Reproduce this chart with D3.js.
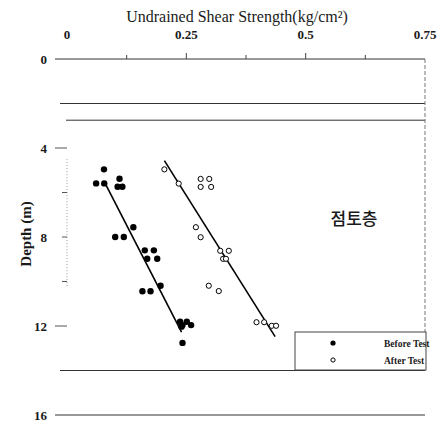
<!DOCTYPE html>
<html><head><meta charset="utf-8">
<script src="https://cdn.jsdelivr.net/npm/d3@7"></script>
<style>body{margin:0;background:#fff}svg{display:block}.serif{font-family:"Liberation Serif","DejaVu Serif",serif}</style>
</head><body><svg id="c" width="441" height="425"></svg>
<script>
const xTicks = [0, 0.25, 0.5, 0.75];
const xMinorTicks = [0.125, 0.25, 0.375, 0.5, 0.625];
const yTicks = [0, 4, 8, 12, 16];
const yMinorTicks = [4, 6, 8, 10, 12];
const layerDepths = [0, 2, 2.75, 14, 16];
const beforeStrength = [0.0775,0.061,0.078,0.110,0.106,0.116,0.139,0.101,0.119,0.163,0.182,0.168,0.189,0.196,0.158,0.175,0.237,0.242,0.251,0.260,0.240,0.242];
const beforeDepth    = [4.96,5.59,5.59,5.38,5.74,5.74,7.56,8.0,8.0,8.60,8.60,8.98,8.98,10.19,10.44,10.44,11.81,11.96,11.81,11.96,12.03,12.76];
const afterStrength = [0.204,0.234,0.280,0.298,0.280,0.302,0.270,0.280,0.321,0.339,0.327,0.333,0.297,0.318,0.397,0.413,0.429,0.438];
const afterDepth    = [4.96,5.60,5.39,5.39,5.75,5.75,7.56,8.01,8.62,8.62,8.98,8.98,10.19,10.43,11.83,11.83,11.99,11.99];
const beforeFitStrength = [0.081, 0.240];
const beforeFitDepth = [5.63, 12.28];
const afterFitStrength = [0.204, 0.436];
const afterFitDepth = [4.57, 12.48];
const legendLabels = ["Before Test", "After Test"];
const soilLabel = "점토층";
const xTitle = "Undrained Shear Strength(kg/cm²)";
const yTitle = "Depth (m)";

const svg = d3.select("#c");
const x = d3.scaleLinear().domain([0, 0.75]).range([67, 425]);
const y = d3.scaleLinear().domain([0, 16]).range([59, 415]);
const ink = "#1a1a1a";

// layer boundary lines
const lineStarts = {0: 55, 2: 60, 2.75: 66, 14: 60, 16: 55};
svg.selectAll("line.layer").data(layerDepths).enter().append("line")
  .attr("x1", d => lineStarts[d]).attr("x2", x(0.75))
  .attr("y1", d => y(d)).attr("y2", d => y(d))
  .attr("stroke", "#333").attr("stroke-width", 1);

// right border (dashed)
svg.append("line").attr("x1", x(0.75)).attr("x2", x(0.75)).attr("y1", y(0)).attr("y2", y(14))
  .attr("stroke", "#777").attr("stroke-width", 1).attr("stroke-dasharray", "4,2");

// left dotted axis
svg.append("line").attr("x1", x(0)).attr("x2", x(0)).attr("y1", y(4.5)).attr("y2", y(10.3))
  .attr("stroke", "#999").attr("stroke-width", 1).attr("stroke-dasharray", "1,2");

// top ticks
svg.selectAll("line.xt").data(xMinorTicks).enter().append("line")
  .attr("x1", d => x(d)).attr("x2", d => x(d))
  .attr("y1", y(0)).attr("y2", d => y(0) - (d === 0.25 || d === 0.5 ? 6 : 4))
  .attr("stroke", "#444");

// left ticks
svg.selectAll("line.yt").data(yMinorTicks).enter().append("line")
  .attr("x1", d => (d % 4 === 0 && d !== 8) ? 55 : 62).attr("x2", x(0))
  .attr("y1", d => y(d)).attr("y2", d => y(d))
  .attr("stroke", "#555");

// x tick labels
svg.selectAll("text.xl").data(xTicks).enter().append("text").attr("class", "serif")
  .attr("x", d => x(d)).attr("y", 39).attr("text-anchor", "middle")
  .attr("font-weight", "bold").attr("font-size", 13).attr("fill", ink)
  .text(d => d === 0 ? "0" : String(d));

// y tick labels
svg.selectAll("text.yl").data(yTicks).enter().append("text").attr("class", "serif")
  .attr("x", 47).attr("y", d => y(d) + 4.5).attr("text-anchor", "end")
  .attr("font-weight", "bold").attr("font-size", 13).attr("fill", ink)
  .text(d => d);

// titles
svg.append("text").attr("class", "serif").attr("x", 237).attr("y", 22).attr("text-anchor", "middle")
  .attr("font-size", 16).attr("fill", ink).text(xTitle);
svg.append("text").attr("class", "serif").attr("transform", "translate(31,234) rotate(-90)").attr("text-anchor", "middle")
  .attr("font-weight", "bold").attr("font-size", 15).attr("fill", ink).text(yTitle);

// fit lines
const line = d3.line().x(d => x(d[0])).y(d => y(d[1]));
svg.append("path").attr("d", line(d3.zip(beforeFitStrength, beforeFitDepth)))
  .attr("stroke", "#000").attr("stroke-width", 1.6).attr("fill", "none");
svg.append("path").attr("d", line(d3.zip(afterFitStrength, afterFitDepth)))
  .attr("stroke", "#000").attr("stroke-width", 1.6).attr("fill", "none");

// points
svg.selectAll("circle.b").data(d3.zip(beforeStrength, beforeDepth)).enter().append("circle")
  .attr("cx", d => x(d[0])).attr("cy", d => y(d[1])).attr("r", 3.2).attr("fill", "#000");
svg.selectAll("circle.a").data(d3.zip(afterStrength, afterDepth)).enter().append("circle")
  .attr("cx", d => x(d[0])).attr("cy", d => y(d[1])).attr("r", 2.6)
  .attr("fill", "#fff").attr("stroke", "#000").attr("stroke-width", 1);

// soil label
svg.append("text").attr("x", 354).attr("y", 225).attr("text-anchor", "middle")
  .style("font-family", "'Noto Sans CJK KR',sans-serif").attr("font-weight", 500)
  .attr("font-size", 17).attr("fill", ink).text(soilLabel);

// legend
svg.append("rect").attr("x", 295).attr("y", 332).attr("width", 131).attr("height", 38)
  .attr("fill", "#fff").attr("stroke", "#444").attr("stroke-width", 1);
legendLabels.forEach((lab, i) => {
  const cy = 343 + i * 17;
  svg.append("circle").attr("cx", 333).attr("cy", cy).attr("r", i === 0 ? 2.6 : 2.1)
    .attr("fill", i === 0 ? "#000" : "#fff").attr("stroke", "#000").attr("stroke-width", i === 0 ? 0 : 1);
  svg.append("text").attr("class", "serif").attr("x", 384).attr("y", cy + 3.5)
    .attr("font-weight", "bold").attr("font-size", 9.5).attr("fill", ink).text(lab);
});
</script></body></html>
